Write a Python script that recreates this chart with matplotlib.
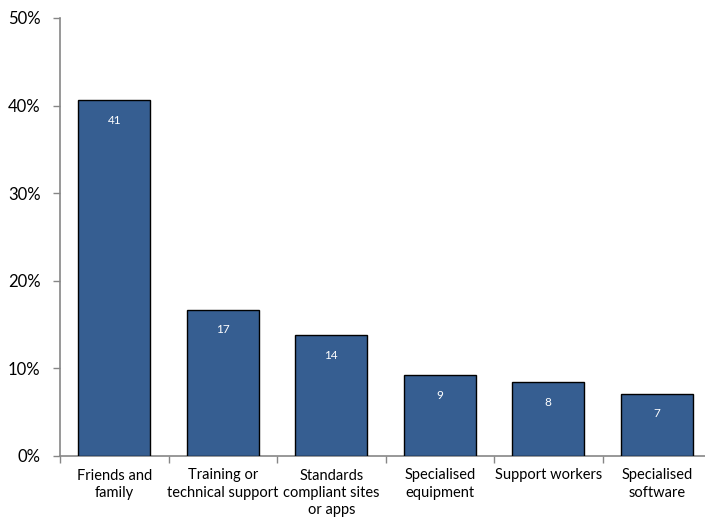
import matplotlib.pyplot as plt
from matplotlib.ticker import FixedLocator, FuncFormatter

# Datos del gráfico
categorias = ["Friends and\nfamily", "Training or\ntechnical support",
              "Standards\ncompliant sites\nor apps", "Specialised\nequipment",
              "Support workers", "Specialised\nsoftware"]
porcentajes = [40.6, 16.7, 13.8, 9.2, 8.4, 7.1]
etiquetas = ["41", "17", "14", "9", "8", "7"]

plt.rcParams['font.family'] = ['Lato', 'DejaVu Sans']

fig = plt.figure(figsize=(7.05, 5.2), dpi=100)
ax = fig.add_axes([60/705, 64/520, 651/705, 438/520])

x = range(len(categorias))
bars = ax.bar(x, porcentajes, width=0.66, color='#365E91', edgecolor='black', linewidth=1.0, zorder=3)

# Etiquetas dentro de las barras
for xi, val, lab in zip(x, porcentajes, etiquetas):
    ax.annotate(lab, (xi, val), xytext=(0, -14.5), textcoords='offset points',
                ha='center', va='center', color='white', fontsize=8.5)

ax.set_xlim(-0.5, len(categorias) - 0.5)
ax.set_ylim(0, 50)
ax.set_yticks([0, 10, 20, 30, 40, 50])
ax.yaxis.set_major_formatter(FuncFormatter(lambda v, p: f"{int(v)}%"))
ax.tick_params(axis='y', length=5, width=1, color='#868686', pad=9, labelsize=12)

# Ticks en los límites de cada categoría, etiquetas centradas
ax.xaxis.set_major_locator(FixedLocator([i - 0.5 for i in range(len(categorias) + 1)]))
ax.xaxis.set_major_formatter(FuncFormatter(lambda v, p: ""))
ax.xaxis.set_minor_locator(FixedLocator(list(x)))
ax.set_xticklabels(categorias, minor=True, linespacing=1.3)
ax.tick_params(axis='x', which='major', length=5, width=1, color='#868686')
ax.tick_params(axis='x', which='minor', length=0, pad=9, labelsize=10.5)

for s in ['top', 'right']:
    ax.spines[s].set_visible(False)
for s in ['left', 'bottom']:
    ax.spines[s].set_color('#868686')
    ax.spines[s].set_linewidth(1.2)

fig.savefig('out.png', dpi=100)
